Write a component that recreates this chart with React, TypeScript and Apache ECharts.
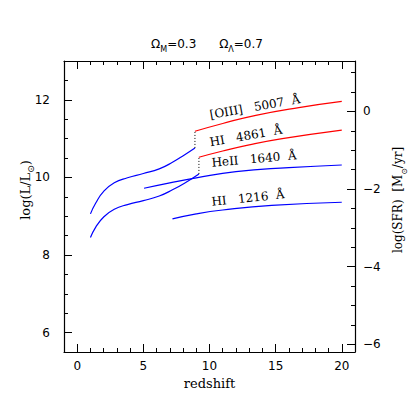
import { useEffect, useRef } from 'react';
import * as echarts from 'echarts';

// Axis ticks
const xTicks = [0, 5, 10, 15, 20];
const xMinorTicks = [0, 1, 2, 3, 4, 5, 6, 7, 8, 9, 10, 11, 12, 13, 14, 15, 16, 17, 18, 19, 20];
const lumTicks = [6, 8, 10, 12];
const lumMinorTicks = [6, 6.5, 7, 7.5, 8, 8.5, 9, 9.5, 10, 10.5, 11, 11.5, 12, 12.5];
const sfrTicks = [-6, -4, -2, 0];
const sfrMinorTicks = [-6, -5.5, -5, -4.5, -4, -3.5, -3, -2.5, -2, -1.5, -1, -0.5, 0, 0.5, 1];

// Axis ranges
const xRange = [-1, 21];
const lumRange = [5.5, 13];
const sfrOffset = 11.7; // log(SFR) = log(L) - offset

// Curves [redshift, log L]
const lowzUpper = [[1.0, 9.06], [1.4, 9.34], [2.0, 9.64], [2.8, 9.86], [3.8, 9.99], [5.0, 10.1], [6.2, 10.22], [7.2, 10.39], [8.1, 10.58], [8.9, 10.76]];
const lowzLower = [[1.0, 8.45], [1.4, 8.72], [2.0, 8.98], [2.8, 9.18], [3.8, 9.3], [5.0, 9.4], [6.2, 9.52], [7.2, 9.68], [8.2, 9.87], [9.2, 10.09]];
const oiii5007 = [[8.9, 11.19], [11, 11.39], [13.5, 11.6], [16.75, 11.8], [20, 11.96]];
const hi4861 = [[9.2, 10.52], [11, 10.68], [13, 10.84], [15.5, 11.0], [20, 11.22]];
const heii1640 = [[5.05, 9.72], [7, 9.86], [9, 9.99], [12, 10.15], [16, 10.25], [20, 10.32]];
const hi1216 = [[7.2, 8.93], [9, 9.06], [11, 9.16], [14.7, 9.28], [20, 9.36]];
const link1 = [[8.9, 10.76], [8.9, 11.19]];
const link2 = [[9.2, 10.09], [9.2, 10.52]];

const lineLabels = [
  { text: '[OIII]\u00a0\u00a0\u00a05007\u00a0\u00a0Å', x: 255, y: 107, rot: 10 },
  { text: 'HI\u00a0\u00a0\u00a04861\u00a0\u00a0Å', x: 246, y: 136, rot: 10 },
  { text: 'HeII\u00a0\u00a0\u00a01640\u00a0\u00a0Å', x: 254, y: 159, rot: 5 },
  { text: 'HI\u00a0\u00a0\u00a01216\u00a0\u00a0Å', x: 248, y: 198, rot: 6 },
];

const SANS = 'DejaVu Sans';
const SERIF = 'DejaVu Serif';
const BLUE = '#0000ff';
const RED = '#ff0000';

export default function App() {
  const ref = useRef<HTMLDivElement>(null);
  useEffect(() => {
    if (!ref.current) return;
    const chart = echarts.init(ref.current, null, { renderer: 'svg' });
    const axisLine = { show: true, onZero: false, lineStyle: { color: '#000', width: 1.2 } };
    const noLine = { show: false, onZero: false };
    const majorX = (position: string, labels: boolean) => ({
      type: 'value', position, min: xRange[0], max: xRange[1],
      axisLine, splitLine: { show: false },
      axisTick: { show: true, inside: true, length: 8, customValues: xTicks, lineStyle: { color: '#000', width: 1 } },
      axisLabel: labels
        ? { show: true, customValues: xTicks, margin: 8, color: '#000', fontFamily: SANS, fontSize: 12 }
        : { show: false },
      name: labels ? 'redshift' : '', nameLocation: 'middle', nameGap: 23,
      nameTextStyle: { fontFamily: SERIF, fontSize: 13, color: '#000' },
    });
    const minorX = (position: string) => ({
      type: 'value', position, min: xRange[0], max: xRange[1],
      axisLine: noLine, splitLine: { show: false },
      axisTick: { show: true, inside: true, length: 4, customValues: xMinorTicks, lineStyle: { color: '#000', width: 1 } },
      axisLabel: { show: false },
    });
    const yAx = (position: string, range: number[], major: number[], minor: number[], isMajor: boolean, margin: number, fmt?: (v: number) => string) => ({
      type: 'value', position, min: range[0], max: range[1],
      axisLine: isMajor ? axisLine : noLine, splitLine: { show: false },
      axisTick: { show: true, inside: true, length: isMajor ? 8 : 4, customValues: isMajor ? major : minor, lineStyle: { color: '#000', width: 1 } },
      axisLabel: isMajor
        ? { show: true, customValues: major, margin, color: '#000', fontFamily: SANS, fontSize: 12, formatter: fmt }
        : { show: false },
    });
    const sfrRange = [lumRange[0] - sfrOffset, lumRange[1] - sfrOffset];
    const minus = (v: number) => (v < 0 ? '\u2212' + Math.abs(v) : String(v));
    const line = (data: number[][], color: string, dotted = false) => ({
      type: 'line', data, xAxisIndex: 0, yAxisIndex: 0, showSymbol: false, symbol: 'none',
      smooth: dotted ? false : 0.5, silent: true,
      lineStyle: { color: dotted ? '#000' : color, width: dotted ? 1 : 1.2, type: dotted ? [1, 2] : 'solid' },
    });
    chart.setOption({
      animation: false,
      backgroundColor: '#fff',
      grid: { left: 64, right: 60, top: 61, bottom: 63, containLabel: false, outerBoundsMode: 'none' },
      xAxis: [majorX('bottom', true), minorX('bottom'), majorX('top', false), minorX('top')],
      yAxis: [
        yAx('left', lumRange, lumTicks, lumMinorTicks, true, 14),
        yAx('left', lumRange, lumTicks, lumMinorTicks, false, 14),
        yAx('right', sfrRange, sfrTicks, sfrMinorTicks, true, 8, minus),
        yAx('right', sfrRange, sfrTicks, sfrMinorTicks, false, 8),
      ],
      series: [
        line(lowzUpper, BLUE),
        line(lowzLower, BLUE),
        line(oiii5007, RED),
        line(hi4861, RED),
        line(heii1640, BLUE),
        line(hi1216, BLUE),
        line(link1, '#000', true),
        line(link2, '#000', true),
      ],
      graphic: [
        {
          type: 'text', x: 207, y: 44,
          style: {
            text: '{o|Ω}{s|M}{o|=0.3\u00a0\u00a0\u00a0\u00a0\u00a0\u00a0Ω}{s|Λ}{o|=0.7}',
            align: 'center', verticalAlign: 'middle',
            rich: {
              o: { fontFamily: SANS, fontSize: 12, fill: '#000', lineHeight: 18, verticalAlign: 'middle' },
              s: { fontFamily: SANS, fontSize: 8, fill: '#000', lineHeight: 9, verticalAlign: 'bottom' },
            },
          },
        },
        {
          type: 'text', x: 25, y: 190, rotation: Math.PI / 2,
          style: {
            text: '{o|log(L/L}{s|⊙}{o|)}',
            align: 'center', verticalAlign: 'middle',
            rich: {
              o: { fontFamily: SERIF, fontSize: 13, fill: '#000', lineHeight: 20, verticalAlign: 'middle' },
              s: { fontFamily: SANS, fontSize: 9, fill: '#000', lineHeight: 10, verticalAlign: 'bottom' },
            },
          },
        },
        {
          type: 'text', x: 398, y: 200, rotation: Math.PI / 2,
          style: {
            text: '{o|log(SFR)\u00a0\u00a0[M}{s|⊙}{o|/yr]}',
            align: 'center', verticalAlign: 'middle',
            rich: {
              o: { fontFamily: SERIF, fontSize: 12, fill: '#000', lineHeight: 20, verticalAlign: 'middle' },
              s: { fontFamily: SANS, fontSize: 8, fill: '#000', lineHeight: 10, verticalAlign: 'bottom' },
            },
          },
        },
        ...lineLabels.map((l) => ({
          type: 'text', x: l.x, y: l.y, rotation: (l.rot * Math.PI) / 180,
          style: { text: l.text, fontFamily: SERIF, fontSize: 12, fill: '#000', align: 'center', verticalAlign: 'middle' },
        })),
      ],
    });
    return () => chart.dispose();
  }, []);
  return <div ref={ref} style={{ width: 415, height: 415, position: 'absolute', left: 0, top: 0 }} />;
}
